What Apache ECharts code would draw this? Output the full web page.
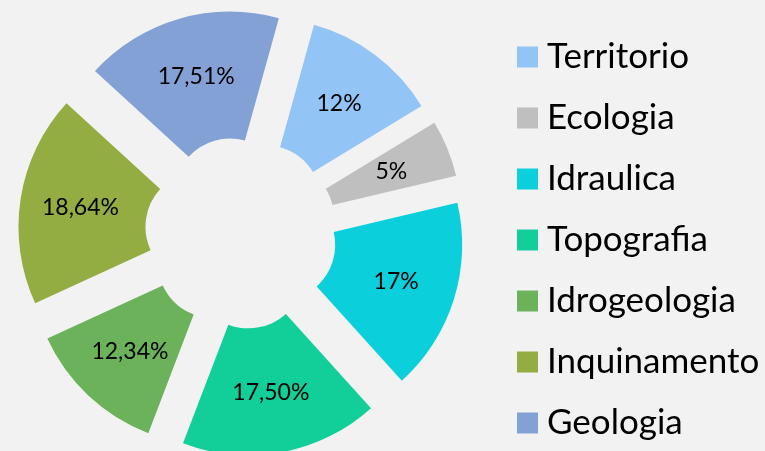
<!DOCTYPE html>
<html>
<head>
<meta charset="utf-8">
<script src="https://cdn.jsdelivr.net/npm/echarts@6/dist/echarts.min.js"></script>
<style>
  html, body { margin: 0; padding: 0; background: #f2f2f2; }
  #chart { width: 765px; height: 451px; }
</style>
</head>
<body>
<div id="chart"></div>
<script>
// dati del grafico
var categorie = ['Territorio', 'Ecologia', 'Idraulica', 'Topografia', 'Idrogeologia', 'Inquinamento', 'Geologia'];
var valori = [12, 5, 17, 17.50, 12.34, 18.64, 17.51];
var etichette = ['12%', '5%', '17%', '17,50%', '12,34%', '18,64%', '17,51%'];
var colori = ['#92c5f5', '#bfbfbf', '#0bcfdb', '#12cf9a', '#6cb25a', '#93ad42', '#84a1d5'];

function showDonut() {
	var chart = echarts.init(document.getElementById('chart'));

	// ogni fetta "esplosa" -> selected
	var dati = [];
	for (var i = 0; i < categorie.length; i++) {
		dati.push({
			name: categorie[i],
			value: valori[i],
			selected: true,
			itemStyle: { color: colori[i] },
			label: { formatter: etichette[i] }
		});
	}

	var option = {
		backgroundColor: '#f2f2f2',
		animation: false,
		color: colori,
		legend: {
			orient: 'vertical',
			left: 517,
			top: 37,
			height: 414,
			padding: 0,
			icon: 'rect',
			itemWidth: 21,
			itemHeight: 21,
			itemGap: 21,
			selectedMode: false,
			textStyle: {
				fontFamily: 'Lato',
				fontSize: 35,
				lineHeight: 40,
				padding: [0, 0, 0, 4],
				color: '#000'
			},
			data: categorie
		},
		series: [
			{
				type: 'pie',
				center: [241, 233],
				radius: [56, 183],
				startAngle: 74.5,
				clockwise: true,
				selectedMode: 'multiple',
				selectedOffset: 40,
				avoidLabelOverlap: false,
				label: {
					show: true,
					position: 'inside',
					fontFamily: 'Lato',
					fontSize: 23,
					color: '#000'
				},
				labelLine: { show: false },
				emphasis: { scale: false },
				data: dati
			}
		]
	};

	chart.setOption(option);
}

showDonut();
</script>
</body>
</html>
